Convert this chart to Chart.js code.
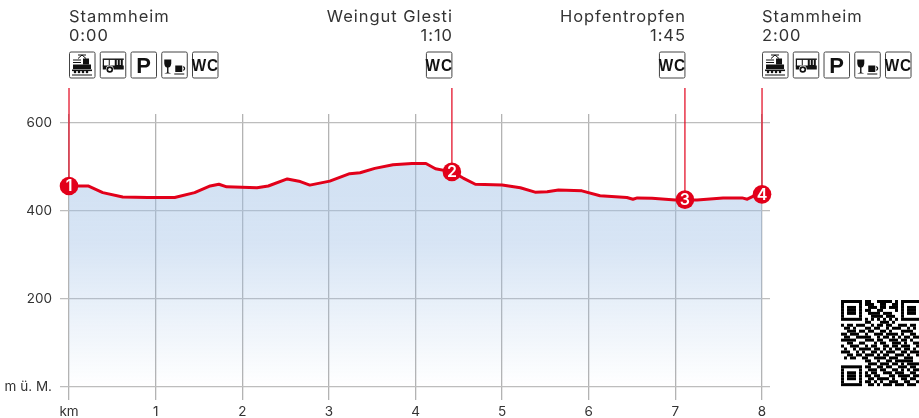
<!DOCTYPE html>
<html><head><meta charset="utf-8">
<style>html,body{margin:0;padding:0;background:#fff;overflow:hidden}canvas{display:block}</style>
<script src="https://cdn.jsdelivr.net/npm/chart.js@4/dist/chart.umd.min.js"></script>
</head><body><canvas id="c" width="919" height="418"></canvas>
<script>
const profileKm=[0,.22,.39,.62,.91,1.22,1.45,1.63,1.73,1.82,2.17,2.30,2.52,2.67,2.78,3.01,3.24,3.36,3.53,3.74,3.96,4.12,4.23,4.42,4.55,4.69,5.00,5.21,5.38,5.52,5.65,5.92,6.13,6.44,6.51,6.56,6.73,7.00,7.25,7.55,7.77,7.83,7.90,8];
const profileM=[456,456,441,431,430,430,441,456,460,454,452,456,472,466,458,467,484,486,496,504,507,507,495,488,474,460,458,452,442,443,447,445,434,430,426,429,428,424,424,429,429,426,433,436];
const stopKm=[0,4.42,7.11,8];
const stopM=[456,488,425,437];
const stopNumbers=['1','2','3','4'];
const stopNames=['Stammheim','Weingut Glesti','Hopfentropfen','Stammheim'];
const stopTimes=['0:00','1:10','1:45','2:00'];
const stopAlign=['left','right','right','left'];
const stopIcons=[['train','bus','P','food','WC'],['WC'],['WC'],['train','bus','P','food','WC']];
const leaderTopM=678;
const xTickValues=[0,1,2,3,4,5,6,7,8];
const xTickLabels=['km','1','2','3','4','5','6','7','8'];
const yTickValues=[0,200,400,600];
const yTickLabels=['m ü. M.','200','400','600'];
const RED='#e2001a',TXT='#333333',INK='#111111';
const FONT='Inter, "Open Sans", sans-serif';
const qr=[
"11111110110011111010111111","10000010111001100110100000","10111010011101101110101110","10111010110011000010101110",
"10111010011110111000101110","10000010001111011100100000","11111110101010101010111111","00000000110001110100000000",
"10110111001011011001110110","01101000110110010111001010","00111011011001101000111100","11011100100111011110100110",
"01100111110010110101011011","11111000111011001110110100","00110011000101100111010011","10011100101100110110111001",
"01001011110110101011011010","11100101001101011100110111","00110110111010110011101001","01011001100111101110011100",
"00000000110010011011111100","00000000011101110110101111","11111110110011011001110110","10000010011101100110101011",
"10111010101100111011100110","10111010110110001101111011","10111010011011110100110110","10000010110101001110011001",
"11111110011010111011101110"];
function icon(g,kind,x,y){
  g.save();g.translate(x,y);
  g.strokeStyle='#444';g.lineWidth=1;g.fillStyle='#fff';
  g.beginPath();g.roundRect(.5,.5,25.5,26,1.5);g.fill();g.stroke();
  g.fillStyle=INK;g.strokeStyle=INK;
  if(kind==='WC'){g.save();g.translate(13.3,19);g.scale(.9,1);g.font='bold 17px "Liberation Sans", Arial';g.textAlign='center';g.textBaseline='alphabetic';g.fillText('WC',0,0);g.restore();}
  else if(kind==='P'){g.font='bold 22px "Liberation Sans", Arial';g.textAlign='center';g.textBaseline='alphabetic';g.fillText('P',13.5,21);}
  else if(kind==='train'){
    g.lineWidth=1;g.beginPath();g.moveTo(9,7);g.lineTo(13,3.5);g.lineTo(17,7);g.moveTo(9,3.5);g.lineTo(17,3.5);g.stroke();
    g.fillRect(14,7,6,6);g.fillRect(4,8,8,1);g.fillRect(4,10.5,8,1);g.fillRect(4,13,18,4.5);g.fillRect(3,18,20,1.6);
    [6,10,14,18].forEach(c=>{g.beginPath();g.arc(c,20.5,1.3,0,7);g.fill();});g.fillRect(3,23,20,1);
  }else if(kind==='bus'){
    g.fillRect(3,7,21,1.4);g.fillRect(15,8,8,9);g.fillRect(3,8,1.2,7);g.fillRect(9,8,1,7);g.fillRect(3,14,21,4);
    g.fillStyle='#fff';[17,20].forEach(c=>g.fillRect(c,8.5,1,5));
    g.beginPath();g.arc(10,18,3.9,0,7);g.fill();g.fillStyle=INK;g.beginPath();g.arc(10,18,3.3,0,7);g.fill();g.fillStyle='#fff';g.beginPath();g.arc(10,18,1.6,0,7);g.fill();
  }else{
    g.beginPath();g.moveTo(3,8);g.lineTo(10,8);g.lineTo(10,12);g.quadraticCurveTo(9.5,16,7.2,16);g.lineTo(7.2,21);g.lineTo(10,22);g.lineTo(3,22);g.lineTo(5.8,21);g.lineTo(5.8,16);g.quadraticCurveTo(3.5,16,3,12);g.closePath();g.fill();
    g.fillRect(14,14,7,6.5);g.lineWidth=1.2;g.beginPath();g.arc(21.5,17,1.8,-1.4,1.4);g.stroke();g.fillRect(13,22,10,1);
  }
  g.restore();
}
const overlay={id:'overlay',afterDatasetsDraw(ch){
  const g=ch.ctx,xs=ch.scales.x,ys=ch.scales.y;
  g.save();
  g.fillStyle='#fff';g.font='600 16px '+FONT;g.textAlign='center';g.textBaseline='middle';
  stopNumbers.forEach((n,i)=>g.fillText(n,xs.getPixelForValue(stopKm[i]),ys.getPixelForValue(stopM[i])+.5));
  g.fillStyle=TXT;g.font='16.5px '+FONT;g.textBaseline='alphabetic';g.letterSpacing='0.95px';
  stopNames.forEach((n,i)=>{
    const px=xs.getPixelForValue(stopKm[i]);
    const edge=stopAlign[i]==='left'?px:px+1;
    g.textAlign=stopAlign[i];
    g.fillText(n,edge,22);g.fillText(stopTimes[i],edge,41);
    stopIcons[i].forEach((k,j)=>icon(g,k,stopAlign[i]==='left'?px+j*30.75:px-26,51.5));
  });
  g.letterSpacing='0px';
  g.fillStyle='#000';
  qr.forEach((r,ry)=>[...r].forEach((b,cx)=>{if(b==='1')g.fillRect(841+cx*3,300+ry*2.97,3,3);}));
  g.restore();
}};
const tickFont={family:FONT,size:13.5};
new Chart(document.getElementById('c'),{
  type:'scatter',
  data:{datasets:[
    {data:stopKm.map((k,i)=>({x:k,y:stopM[i]})),pointRadius:9.3,pointBackgroundColor:RED,pointBorderWidth:0,showLine:false,order:1,clip:false},
    {data:profileKm.map((k,i)=>({x:k,y:profileM[i]})),showLine:true,pointRadius:0,borderColor:RED,borderWidth:3,borderJoinStyle:'round',tension:0,order:2,
     fill:{value:0},
     backgroundColor(c){const a=c.chart.chartArea;if(!a)return 'transparent';const gr=c.chart.ctx.createLinearGradient(0,195,0,387);
       gr.addColorStop(0,'rgba(160,192,230,.46)');gr.addColorStop(.25,'rgba(160,192,230,.42)');gr.addColorStop(1,'rgba(160,192,230,0)');return gr;}},
    ...stopKm.map((k,i)=>({data:[{x:k,y:stopM[i]},{x:k,y:leaderTopM}],showLine:true,pointRadius:0,borderColor:RED,borderWidth:1.2,order:3,clip:false}))
  ]},
  options:{
    responsive:false,animation:false,events:[],
    layout:{padding:{top:114,right:149,left:0,bottom:0}},
    plugins:{legend:{display:false},tooltip:{enabled:false},title:{display:false}},
    scales:{
      x:{type:'linear',min:-0.104,max:8.092,
        afterBuildTicks(s){s.ticks=xTickValues.map(v=>({value:v}));},
        afterFit(s){s.height=18;},
        border:{display:false},
        grid:{color:'#b3b3b3',lineWidth:1.3,drawTicks:false},
        ticks:{padding:4,maxRotation:0,autoSkip:false,color:TXT,font:tickFont,callback(v,i){return xTickLabels[i];}}},
      y:{type:'linear',min:-29.5,max:619.3,
        afterBuildTicks(s){s.ticks=yTickValues.map(v=>({value:v}));},
        afterFit(s){s.width=60;},
        border:{display:false},
        grid:{color:'#bdbdbd',lineWidth:1.3,drawTicks:false},
        ticks:{padding:8,autoSkip:false,color:TXT,font:tickFont,callback(v,i){return yTickLabels[i];}}}
    }
  },
  plugins:[overlay]
});
</script></body></html>
